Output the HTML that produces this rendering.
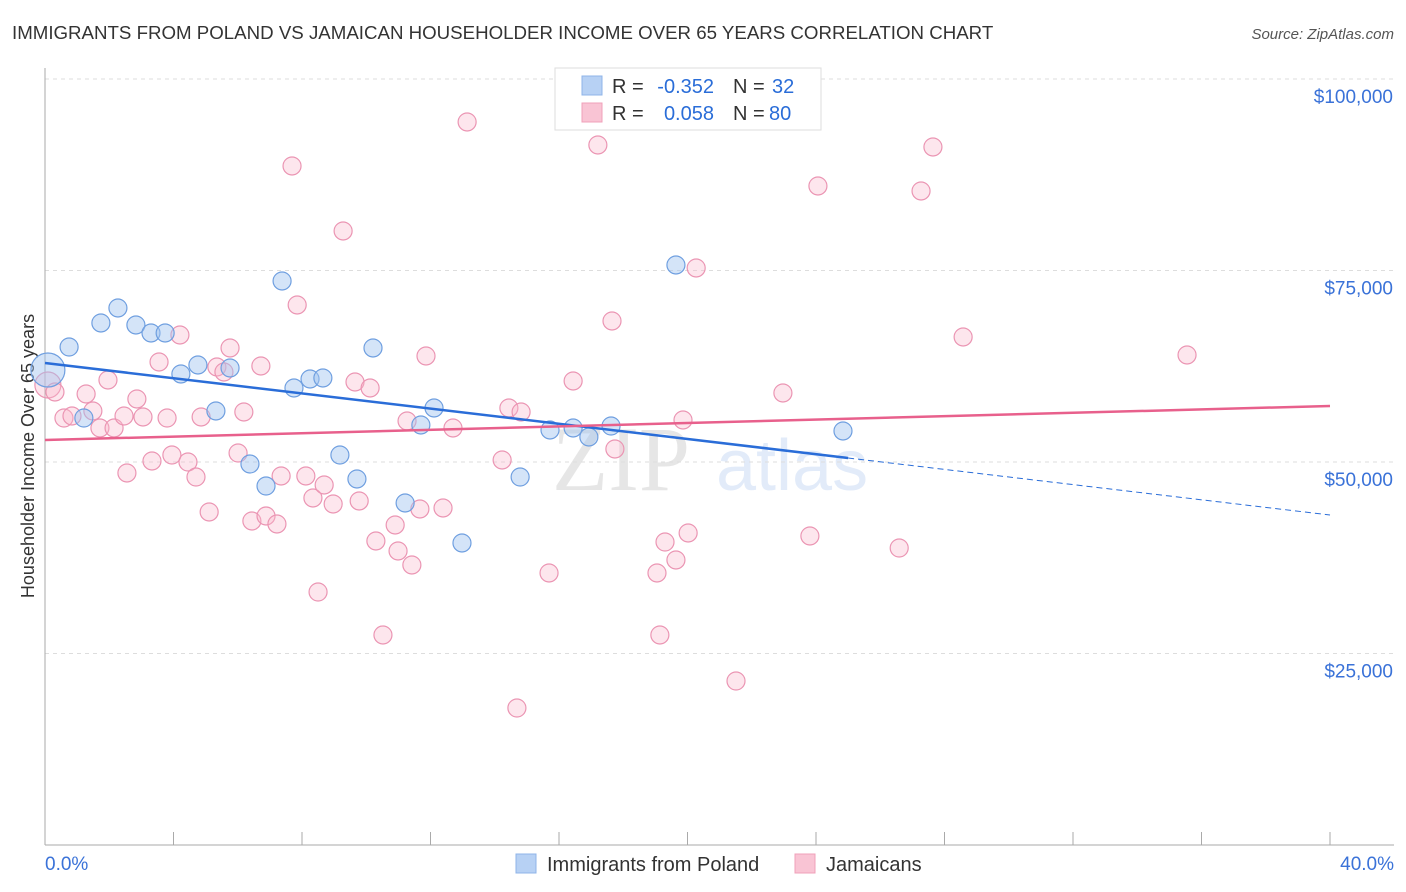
<!DOCTYPE html>
<html><head><meta charset="utf-8"><style>
body{margin:0;background:#fff;font-family:"Liberation Sans",sans-serif;}
svg{display:block}
</style></head><body>
<svg id="chart" width="1406" height="892" xmlns="http://www.w3.org/2000/svg">
<text x="12" y="39" font-size="18.7" fill="#333">IMMIGRANTS FROM POLAND VS JAMAICAN HOUSEHOLDER INCOME OVER 65 YEARS CORRELATION CHART</text>
<text x="1394" y="39" font-size="15" fill="#555" text-anchor="end" font-style="italic">Source: ZipAtlas.com</text>
<text transform="translate(34,456) rotate(-90)" font-size="18" fill="#333" text-anchor="middle">Householder Income Over 65 years</text>
<g opacity="0.13">
<text x="552" y="490" font-size="92" font-family="Liberation Serif" fill="#444">ZIP</text>
<text x="716" y="490" font-size="72" fill="#2a6dd8">atlas</text>
</g>
<g id="grid"></g><g id="axes"></g><g id="pts"></g><g id="lines"></g>
<g>
<rect x="555" y="68" width="266" height="62" fill="#fff" stroke="#ddd"/>
<rect x="582" y="76" width="20" height="19" fill="#b7d1f4" stroke="#8fb4e8"/>
<rect x="582" y="103" width="20" height="19" fill="#f9c4d4" stroke="#f0a0ba"/>
<text x="612" y="93" font-size="20" fill="#333">R =</text>
<text x="714" y="93" font-size="20" fill="#2a6dd8" text-anchor="end">-0.352</text>
<text x="733" y="93" font-size="20" fill="#333">N =</text>
<text x="772" y="93" font-size="20" fill="#2a6dd8">32</text>
<text x="612" y="120" font-size="20" fill="#333">R =</text>
<text x="714" y="120" font-size="20" fill="#2a6dd8" text-anchor="end">0.058</text>
<text x="733" y="120" font-size="20" fill="#333">N =</text>
<text x="769" y="120" font-size="20" fill="#2a6dd8">80</text>
</g>
<g>
<rect x="516" y="854" width="20" height="19" fill="#b7d1f4" stroke="#8fb4e8"/>
<text x="547" y="871" font-size="20" fill="#333">Immigrants from Poland</text>
<rect x="795" y="854" width="20" height="19" fill="#f9c4d4" stroke="#f0a0ba"/>
<text x="826" y="871" font-size="20" fill="#333">Jamaicans</text>
</g>
</svg>
<script>
const yTicks=[25000,50000,75000,100000];
const yTickLabels=["$25,000","$50,000","$75,000","$100,000"];
const xTickLabels=["0.0%","40.0%"];
const polandX=[0.09,0.75,1.21,1.74,2.27,2.83,3.30,3.74,4.23,4.76,5.32,5.76,6.38,6.88,7.38,7.75,8.25,8.65,9.18,9.71,10.21,11.21,11.70,12.11,12.98,14.79,15.72,16.44,16.93,17.62,19.64,24.84];
const polandY=[62011,65013,55744,68147,70105,67886,66842,66842,61489,62664,56659,62272,49740,46867,73630,59661,60836,60967,50914,47781,64883,44648,54831,57050,39426,48042,54178,54439,53264,54700,75719,54048];
const jamX=[0.09,0.31,0.59,0.84,1.28,1.49,1.71,1.96,2.15,2.46,2.55,2.86,3.05,3.33,3.55,3.80,3.95,4.20,4.45,4.70,4.86,5.11,5.35,5.57,5.76,6.01,6.19,6.44,6.72,6.88,7.22,7.35,7.69,7.85,8.12,8.34,8.50,8.69,8.97,9.28,9.65,9.78,10.12,10.30,10.52,10.90,10.99,11.27,11.42,11.67,11.86,12.39,12.70,13.14,14.23,14.44,14.69,14.82,15.69,16.44,17.21,17.65,17.74,19.05,19.14,19.30,19.64,19.86,20.02,20.27,21.51,22.97,23.81,24.06,26.59,27.27,27.64,28.58,35.55];
const jamY=[60053,59139,55744,56006,58878,56659,54439,60706,54439,56006,48565,58225,55875,50131,63056,55744,50914,66581,50000,48042,55875,43473,62403,61750,64883,51175,56528,42298,62533,42951,41907,48173,88643,70497,48173,45301,33029,46998,44518,80158,60445,44909,59661,39687,27416,41776,38382,55353,36554,43865,63839,43996,54439,94388,50262,57050,17885,56528,35510,60575,91385,68408,51698,35510,27416,39556,37207,55484,40732,75327,21410,59009,40340,86032,38773,85380,91124,66320,63970];
const polandTrend=[62924,43081];
const jamTrend=[52872,57311];
const NS="http://www.w3.org/2000/svg";
const X=v=>45+v/40*1285;
const Y=v=>845-v/25000*191.5;
function mk(tag,attrs,parent){const e=document.createElementNS(NS,tag);for(const k in attrs)e.setAttribute(k,attrs[k]);document.getElementById(parent).appendChild(e);return e;}
yTicks.forEach((t,i)=>{
 const g=mk('line',{x1:45,x2:1394,y1:Y(t),y2:Y(t),stroke:'#ddd','stroke-dasharray':'4,4'},'grid');
 
 
 const l=mk('text',{x:1393,y:Y(t)+24,'font-size':19,fill:'#3a72d8','text-anchor':'end'},'axes');
 l.textContent=yTickLabels[i];
 
 
});
let ax=mk('line',{x1:45,x2:45,y1:68,y2:845,stroke:'#aaa'},'axes');


ax=mk('line',{x1:45,x2:1394,y1:845,y2:845,stroke:'#aaa'},'axes');


for(let i=0;i<=10;i++){const t=mk('line',{x1:X(i*4),x2:X(i*4),y1:832,y2:845,stroke:'#aaa'},'axes');
 
 }
let xl=mk('text',{x:45,y:870,'font-size':19,fill:'#3a72d8'},'axes');xl.textContent=xTickLabels[0];


xl=mk('text',{x:1394,y:870,'font-size':19,fill:'#3a72d8','text-anchor':'end'},'axes');xl.textContent=xTickLabels[1];


jamX.forEach((x,i)=>{const c=mk('circle',{cx:X(x),cy:Y(jamY[i]),r:i==0?13:9,fill:'rgba(248,182,202,0.35)',stroke:'#eb95b3','stroke-width':1.2},'pts');
 
 });
polandX.forEach((x,i)=>{const c=mk('circle',{cx:X(x),cy:Y(polandY[i]),r:i==0?17:9,fill:'rgba(160,196,240,0.45)',stroke:'#6f9fe0','stroke-width':1.2},'pts');
 
 });
const pAt=x=>polandTrend[0]+(polandTrend[1]-polandTrend[0])*x/40;
let l=mk('line',{x1:X(0),y1:Y(pAt(0)),x2:X(25),y2:Y(pAt(25)),stroke:'#2a6dd8','stroke-width':2.5},'lines');


l=mk('line',{x1:X(25),y1:Y(pAt(25)),x2:X(40),y2:Y(pAt(40)),stroke:'#2a6dd8','stroke-width':1,'stroke-dasharray':'6,4'},'lines');


l=mk('line',{x1:X(0),y1:Y(jamTrend[0]),x2:X(40),y2:Y(jamTrend[1]),stroke:'#e8608c','stroke-width':2.5},'lines');


</script>
</body></html>
